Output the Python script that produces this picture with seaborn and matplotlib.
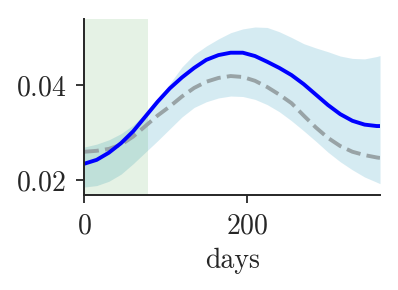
import seaborn as sns
import matplotlib.pyplot as plt

sns.set_style('ticks')
plt.rcParams['font.family'] = ['cmr10', 'DejaVu Serif']
plt.rcParams['axes.formatter.use_mathtext'] = True

# values
days = [0, 15, 30, 45, 60, 75, 90, 105, 120, 135, 150, 165, 180, 195, 210, 225, 240,
        255, 270, 285, 300, 315, 330, 345, 360, 364]
model = [0.0235, 0.0243, 0.0258, 0.0278, 0.0303, 0.0334, 0.0365, 0.0393, 0.0416, 0.0436,
         0.0453, 0.0463, 0.0468, 0.0468, 0.0461, 0.0449, 0.0436, 0.0421, 0.0402, 0.0380,
         0.0358, 0.0339, 0.0325, 0.0317, 0.0314, 0.0314]
baseline = [0.0260, 0.0262, 0.0266, 0.0275, 0.0292, 0.0314, 0.0336, 0.0355, 0.0376, 0.0394,
            0.0407, 0.0415, 0.0419, 0.0417, 0.0409, 0.0396, 0.0380, 0.0362, 0.0336, 0.0311,
            0.0289, 0.0272, 0.0260, 0.0253, 0.0248, 0.0247]
upper = [0.0270, 0.0276, 0.0285, 0.0298, 0.0316, 0.0340, 0.0369, 0.0403, 0.0438, 0.0464,
         0.0482, 0.0497, 0.0510, 0.0518, 0.0522, 0.0521, 0.0512, 0.0500, 0.0487, 0.0478,
         0.0470, 0.0461, 0.0456, 0.0455, 0.0460, 0.0462]
lower = [0.0186, 0.0189, 0.0198, 0.0213, 0.0235, 0.0259, 0.0283, 0.0308, 0.0333, 0.0353,
         0.0365, 0.0373, 0.0377, 0.0376, 0.0370, 0.0359, 0.0344, 0.0325, 0.0304, 0.0282,
         0.0259, 0.0239, 0.0222, 0.0207, 0.0196, 0.0193]
window_end = 78

fig = plt.figure(figsize=(3.98, 2.90), dpi=100)
ax = fig.add_axes([0.2123, 0.3276, 0.7425, 0.6069])

ax.fill_between(days, lower, upper, color='lightblue', alpha=0.5, linewidth=0)
ax.axvspan(0, window_end, color='green', alpha=0.1, linewidth=0)
sns.lineplot(x=days, y=baseline, color='#98a3a6', linestyle='--', linewidth=2.8, ax=ax)
sns.lineplot(x=days, y=model, color='blue', linewidth=2.8, ax=ax)

ax.set_xlim(0, 364)
ax.set_xticks([0, 200])
ax.set_yticks([0.02, 0.04])
ax.set_xlabel('days', fontsize=20, labelpad=6)
ax.tick_params(labelsize=20, width=1.3, length=6, pad=7)
for s in ax.spines.values():
    s.set_linewidth(1.4)
sns.despine(ax=ax)

fig.savefig('out.png', dpi=100)
